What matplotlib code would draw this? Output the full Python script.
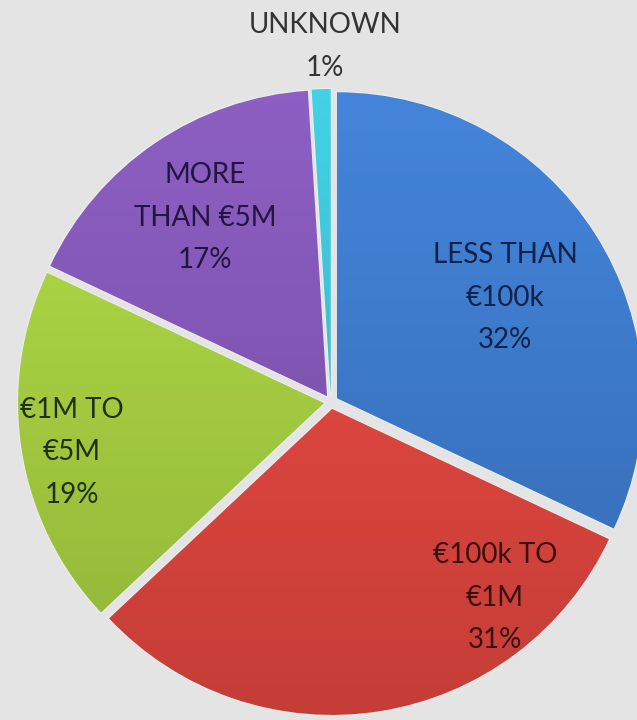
import numpy as np
import matplotlib.pyplot as plt
from matplotlib.colors import to_rgb

# quote ranges, share of respondents (%)
categories = ['LESS THAN\n€100k', '€100k TO\n€1M', '€1M TO\n€5M', 'MORE\nTHAN €5M', 'UNKNOWN']
shares = [32, 31, 19, 17, 1]
colors = ['#3c7acc', '#e2463f', '#a6cf40', '#8256b6', '#3cc3d6']
text_colors = ['#12224a', '#3a0f0f', '#1c3210', '#241440', '#333333']

# label anchor (pixel coords of the first line centre)
label_pos = [(505, 255), (495, 555), (72, 410), (205, 175), (325, 25)]

W, H = 637, 720
cx, cy, R = 331, 402, 306

fig = plt.figure(figsize=(W / 100, H / 100), dpi=100)
fig.patch.set_facecolor('#e4e4e4')
ax = fig.add_axes([0, 0, 1, 1])
ax.set_facecolor('#e4e4e4')

wedges, _ = ax.pie(shares, colors=colors, startangle=90, counterclock=False,
                   explode=[7] * len(shares), radius=R, center=(cx, H - cy),
                   wedgeprops=dict(edgecolor='#eeeeee', linewidth=1.5), frame=True)

# soft top-to-bottom shading inside each slice
t = np.linspace(0, 1, 256)[:, None]
for w, c in zip(wedges, colors):
    base = np.array(to_rgb(c))
    light = np.clip(base * 1.05 + 0.02, 0, 1)
    dark = base * 0.87
    grad = light[None, None, :] * (1 - t[..., None]) + dark[None, None, :] * t[..., None]
    grad = np.repeat(grad, 2, axis=1)
    im = ax.imshow(grad, extent=(cx - R - 10, cx + R + 10, H - cy - R - 10, H - cy + R + 10),
                   origin='upper', aspect='auto', zorder=w.get_zorder() + 0.1)
    im.set_clip_path(w)

for cat, s, (px, py), tc in zip(categories, shares, label_pos, text_colors):
    lines = cat.split('\n') + [f'{s}%']
    for i, ln in enumerate(lines):
        ax.text(px, H - py - i * 42.5, ln, ha='center', va='center',
                fontsize=20, family='Lato', color=tc, zorder=5)

ax.set_xlim(0, W)
ax.set_ylim(0, H)
ax.set_aspect('equal')
ax.axis('off')

plt.savefig('out.png', dpi=100, facecolor=fig.get_facecolor())
